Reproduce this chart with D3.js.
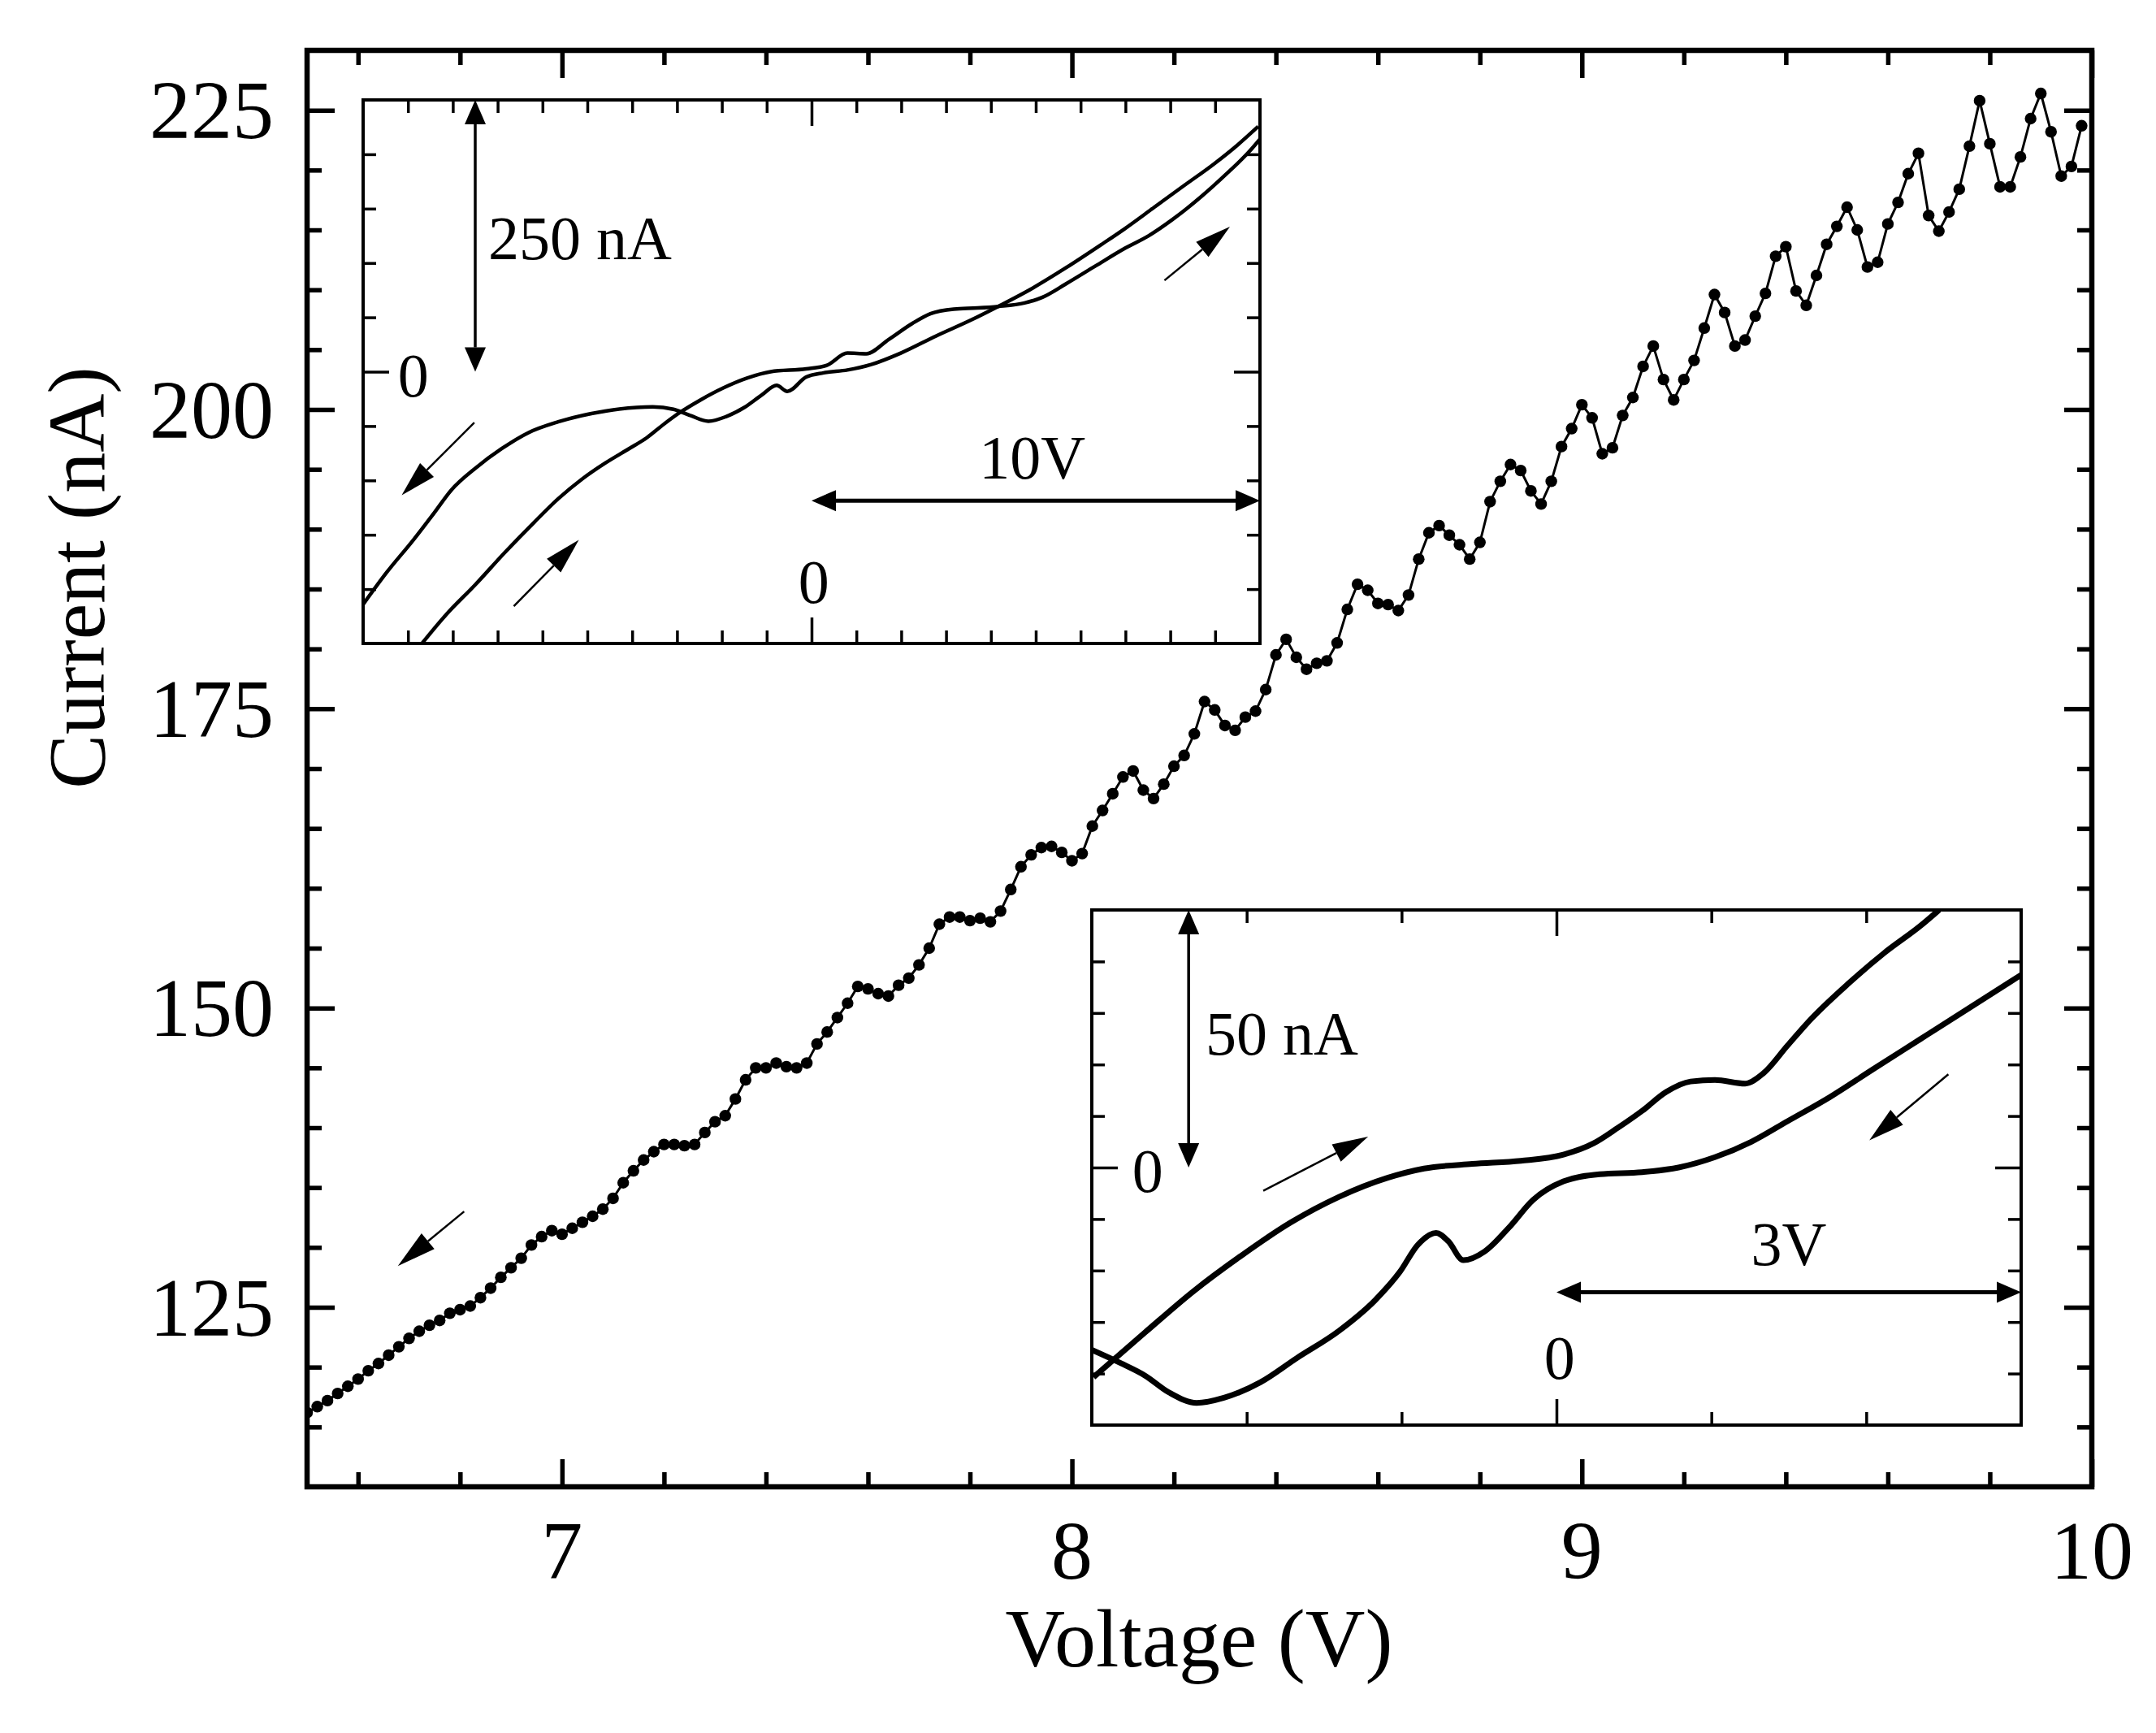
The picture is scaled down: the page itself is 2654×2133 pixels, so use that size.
<!DOCTYPE html>
<html>
<head>
<meta charset="utf-8">
<script src="https://cdn.jsdelivr.net/npm/d3@7"></script>
<style>
  body { margin: 0; background: #fff; }
  text { font-family: "Liberation Serif", "Times New Roman", serif; fill: #000; }
</style>
</head>
<body>
<script>
// main sweep, sampled every 0.02 V from 6.50 V
const mainStartV = 6.5;
const mainStepV = 0.02;
const mainCurrent = [
  116.2, 116.7, 117.2, 117.8, 118.4, 119.0, 119.7, 120.3, 121.0, 121.7,
  122.4, 123.0, 123.5, 123.9, 124.5, 124.8, 125.1, 125.8, 126.6, 127.5,
  128.3, 129.1, 130.2, 130.9, 131.4, 131.1, 131.6, 132.1, 132.6, 133.2,
  134.1, 135.4, 136.4, 137.3, 138.0, 138.6, 138.6, 138.5, 138.6, 139.6,
  140.5, 141.0, 142.4, 144.0, 145.0, 145.0, 145.4, 145.1, 145.0, 145.4,
  147.0, 148.0, 149.2, 150.4, 151.8, 151.6, 151.2, 151.0, 151.9, 152.5,
  153.6, 155.0, 157.0, 157.6, 157.6, 157.3, 157.5, 157.2, 158.1, 159.9,
  161.8, 162.8, 163.4, 163.5, 163.0, 162.3, 162.9, 165.2, 166.5, 167.9,
  169.3, 169.8, 168.2, 167.5, 168.7, 170.2, 171.1, 172.9, 175.6, 174.9,
  173.6, 173.2, 174.3, 174.8, 176.6, 179.5, 180.8, 179.3, 178.3, 178.8,
  179.0, 180.5, 183.3, 185.4, 184.9, 183.8, 183.7, 183.2, 184.5, 187.5,
  189.7, 190.3, 189.5, 188.7, 187.5, 188.9, 192.3, 194.0, 195.4, 194.9,
  193.2, 192.1, 194.0, 196.9, 198.4, 200.4, 199.3, 196.3, 196.8, 199.5,
  201.0, 203.6, 205.3, 202.5, 200.8, 202.5, 204.1, 206.8, 209.6, 208.1,
  205.3, 205.8, 207.8, 209.7, 212.8, 213.6, 209.9, 208.7, 211.2, 213.8,
  215.3, 216.9, 215.0, 211.9, 212.3, 215.5, 217.3, 219.7, 221.4, 216.2,
  214.9, 216.5, 218.4, 222.0, 225.8, 222.2, 218.6, 218.6, 221.1, 224.3,
  226.4, 223.2, 219.5, 220.3, 223.7
];
const mainXMajor = [7, 8, 9, 10];
const mainXMinor = [6.6, 6.8, 7.2, 7.4, 7.6, 7.8, 8.2, 8.4, 8.6, 8.8, 9.2, 9.4, 9.6, 9.8];
const mainYMajor = [125, 150, 175, 200, 225];
const mainYMinor = [115, 120, 130, 135, 140, 145, 155, 160, 165, 170, 180, 185, 190, 195, 205, 210, 215, 220];

// upper inset: full +-10 V loop
const in1DownV = [-10.0, -9.47, -8.88, -8.42, -8.03, -7.50, -6.91, -6.31, -5.65, -4.60, -3.54, -3.08, -2.69, -2.30, -1.90, -1.50, -1.11, -0.78, -0.54, -0.12, 0.27, 0.80, 1.33, 1.99, 2.78, 3.57, 4.16, 4.88, 5.67, 6.46, 6.99, 7.65, 8.31, 8.97, 9.49, 9.96];
const in1DownI = [-214.1, -184.4, -154.8, -130.1, -108.7, -88.9, -70.8, -56.0, -46.1, -36.2, -32.3, -34.6, -40.5, -45.5, -41.2, -32.9, -21.4, -12.6, -18.1, -4.9, -1.0, 1.6, 6.6, 17.1, 32.9, 47.8, 60.0, 75.7, 95.5, 116.9, 131.7, 151.5, 171.3, 191.0, 208.2, 225.6];
const in1UpV = [-8.68, -8.16, -7.50, -6.84, -6.18, -5.65, -5.12, -4.60, -4.07, -3.68, -3.28, -2.95, -2.49, -1.96, -1.44, -0.91, -0.12, 0.34, 0.80, 1.22, 1.72, 2.25, 2.65, 3.17, 3.70, 4.16, 4.75, 5.15, 5.67, 6.33, 6.99, 7.52, 8.05, 8.70, 9.23, 9.76, 10.0];
const in1UpI = [-249.6, -224.0, -196.0, -166.3, -138.3, -116.9, -98.8, -84.0, -70.8, -60.9, -47.8, -37.9, -26.3, -14.8, -5.9, 0.0, 2.6, 5.9, 17.1, 16.5, 29.6, 44.5, 53.4, 57.6, 58.6, 60.0, 63.2, 68.5, 80.7, 97.2, 113.6, 125.1, 140.0, 161.4, 181.1, 202.5, 214.0];
const in1XMinor = [-9, -8, -7, -6, -5, -4, -3, -2, -1, 1, 2, 3, 4, 5, 6, 7, 8, 9];
const in1YMinor = [-200, -150, -100, -50, 50, 100, 150, 200];

// lower inset: +-3 V loop
const in2UpV = [-2.989, -2.656, -2.343, -2.03, -1.717, -1.404, -1.09, -0.855, -0.543, -0.23, 0.045, 0.24, 0.396, 0.553, 0.71, 0.866, 1.023, 1.218, 1.336, 1.492, 1.649, 1.884, 2.118, 2.353, 2.47];
const in2UpI = [-40.7, -32.0, -24.0, -17.0, -10.7, -5.7, -2.0, -0.2, 0.7, 1.3, 2.5, 4.7, 7.7, 11.0, 14.7, 16.7, 17.0, 16.3, 18.3, 23.7, 29.0, 35.7, 41.7, 47.0, 50.0];
const in2DownV = [-3.0, -2.812, -2.656, -2.5, -2.323, -2.147, -1.912, -1.677, -1.404, -1.169, -1.012, -0.895, -0.777, -0.699, -0.601, -0.464, -0.308, -0.151, 0.045, 0.279, 0.553, 0.788, 1.023, 1.258, 1.492, 1.766, 2.04, 2.353, 2.666, 3.0];
const in2DownI = [-35.4, -38.0, -40.4, -43.7, -45.7, -44.7, -41.7, -37.0, -31.7, -25.7, -20.3, -15.0, -12.7, -14.3, -18.0, -16.3, -11.7, -6.3, -2.7, -1.3, -0.9, 0.0, 2.0, 5.0, 9.0, 13.7, 19.0, 25.0, 31.0, 37.4];
const in2XMinor = [-2, -1, 1, 2];
const in2YMinor = [-40, -30, -20, -10, 10, 20, 30, 40];

const W = 2654, H = 2133;
const svg = d3.select("body").append("svg")
    .attr("width", W)
    .attr("height", H)
    .style("display", "block");
svg.append("rect").attr("width", W).attr("height", H).attr("fill", "#fff");

// inward ticks on all four sides of a box
function boxTicks(g, x, y, xVals, yVals, len, sw) {
    const [x0, x1] = x.range();
    const [y0, y1] = y.range();
    const add = (axis, tr) => {
        g.append("g").attr("transform", tr)
            .call(axis.tickSizeInner(-len).tickSizeOuter(0).tickFormat(""))
            .call(a => a.select(".domain").remove())
            .selectAll("line").attr("stroke", "#000").attr("stroke-width", sw);
    };
    add(d3.axisBottom(x).tickValues(xVals), `translate(0,${y0})`);
    add(d3.axisTop(x).tickValues(xVals), `translate(0,${y1})`);
    add(d3.axisLeft(y).tickValues(yVals), `translate(${x0},0)`);
    add(d3.axisRight(y).tickValues(yVals), `translate(${x1},0)`);
}

function arrowHead(g, xt, yt, xf, yf, len, wid) {
    const dx = xt - xf, dy = yt - yf;
    const d = Math.hypot(dx, dy);
    const ux = dx / d, uy = dy / d;
    const bx = xt - ux * len, by = yt - uy * len;
    g.append("path")
        .attr("d", `M${xt},${yt}L${bx - uy * wid / 2},${by + ux * wid / 2}L${bx + uy * wid / 2},${by - ux * wid / 2}Z`)
        .attr("fill", "#000");
    return [bx, by];
}

// single arrow from (xf,yf) to tip (xt,yt)
function arrow(g, xf, yf, xt, yt, len, wid, sw) {
    const [bx, by] = arrowHead(g, xt, yt, xf, yf, len, wid);
    g.append("line").attr("x1", xf).attr("y1", yf).attr("x2", bx).attr("y2", by)
        .attr("stroke", "#000").attr("stroke-width", sw);
}

function doubleArrow(g, xa, ya, xb, yb, len, wid, sw) {
    const [b1x, b1y] = arrowHead(g, xa, ya, xb, yb, len, wid);
    const [b2x, b2y] = arrowHead(g, xb, yb, xa, ya, len, wid);
    g.append("line").attr("x1", b1x).attr("y1", b1y).attr("x2", b2x).attr("y2", b2y)
        .attr("stroke", "#000").attr("stroke-width", sw);
}

// ---------- main plot ----------
const x = d3.scaleLinear().domain([6.5, 10]).range([378, 2575]);
const y = d3.scaleLinear().domain([110, 230]).range([1830, 62]);
const main = svg.append("g");

const mainData = mainCurrent.map((c, i) => ({ v: mainStartV + i * mainStepV, c: c }));

svg.append("clipPath").attr("id", "clipMain")
    .append("rect").attr("x", 378).attr("y", 62).attr("width", 2575 - 378).attr("height", 1830 - 62);

const plot = main.append("g").attr("clip-path", "url(#clipMain)");
plot.append("path")
    .datum(mainData)
    .attr("fill", "none")
    .attr("stroke", "#000")
    .attr("stroke-width", 3)
    .attr("d", d3.line().x(d => x(d.v)).y(d => y(d.c)));
plot.selectAll("circle")
    .data(mainData)
    .enter().append("circle")
    .attr("cx", d => x(d.v))
    .attr("cy", d => y(d.c))
    .attr("r", 7.2)
    .attr("fill", "#000");

boxTicks(main, x, y, mainXMajor, mainYMajor, 34, 5.5);
boxTicks(main, x, y, mainXMinor, mainYMinor, 18, 5.5);

main.append("rect")
    .attr("x", 378).attr("y", 62)
    .attr("width", 2575 - 378).attr("height", 1830 - 62)
    .attr("fill", "none").attr("stroke", "#000").attr("stroke-width", 6.5);

main.selectAll(".xlab")
    .data(mainXMajor)
    .enter().append("text")
    .attr("x", d => x(d))
    .attr("y", 1943)
    .attr("text-anchor", "middle")
    .attr("font-size", 102)
    .text(d => d);

main.selectAll(".ylab")
    .data(mainYMajor)
    .enter().append("text")
    .attr("x", 337)
    .attr("y", d => y(d))
    .attr("dy", "0.34em")
    .attr("text-anchor", "end")
    .attr("font-size", 102)
    .text(d => d);

main.append("text")
    .attr("x", 1476).attr("y", 2051)
    .attr("text-anchor", "middle")
    .attr("font-size", 102)
    .text("Voltage (V)");

main.append("text")
    .attr("transform", "translate(128,711) rotate(-90)")
    .attr("text-anchor", "middle")
    .attr("font-size", 100)
    .text("Current (nA)");

arrow(main, x(6.808), y(133.0), x(6.678), y(128.45), 48, 25, 2.5);

// ---------- insets ----------
function drawInset(id, box, xDom, yDom, xMinor, yMinor, curves, sw) {
    const g = svg.append("g");
    const ix = d3.scaleLinear().domain(xDom).range([box.left, box.right]);
    const iy = d3.scaleLinear().domain(yDom).range([box.bottom, box.top]);
    g.append("rect")
        .attr("x", box.left).attr("y", box.top)
        .attr("width", box.right - box.left).attr("height", box.bottom - box.top)
        .attr("fill", "#fff");
    svg.append("clipPath").attr("id", id)
        .append("rect")
        .attr("x", box.left).attr("y", box.top)
        .attr("width", box.right - box.left).attr("height", box.bottom - box.top);
    const cg = g.append("g").attr("clip-path", `url(#${id})`);
    curves.forEach(c => {
        const pts = c.v.map((v, i) => [v, c.i[i]]);
        cg.append("path")
            .datum(pts)
            .attr("fill", "none")
            .attr("stroke", "#000")
            .attr("stroke-width", sw)
            .attr("stroke-linejoin", "round")
            .attr("d", d3.line().x(d => ix(d[0])).y(d => iy(d[1])).curve(d3.curveMonotoneX));
    });
    boxTicks(g, ix, iy, [0], [0], 32, 3.5);
    boxTicks(g, ix, iy, xMinor, yMinor, 16, 3.5);
    g.append("rect")
        .attr("x", box.left).attr("y", box.top)
        .attr("width", box.right - box.left).attr("height", box.bottom - box.top)
        .attr("fill", "none").attr("stroke", "#000").attr("stroke-width", 4);
    return { g, ix, iy };
}

function label(g, xp, yp, txt, anchor) {
    g.append("text").attr("x", xp).attr("y", yp)
        .attr("text-anchor", anchor).attr("font-size", 76).text(txt);
}

// upper inset
const i1 = drawInset("clipIn1", { left: 447, right: 1551, top: 123, bottom: 792 },
    [-10, 10], [-250, 250], in1XMinor, in1YMinor,
    [{ v: in1DownV, i: in1DownI }, { v: in1UpV, i: in1UpI }], 4.5);
doubleArrow(i1.g, i1.ix(-7.5), i1.iy(250), i1.ix(-7.5), i1.iy(0), 30, 26, 3.5);
doubleArrow(i1.g, i1.ix(0), i1.iy(-118.6), i1.ix(10), i1.iy(-118.6), 30, 26, 5);
label(i1.g, i1.ix(-7.21), i1.iy(103.7), "250 nA", "start");
label(i1.g, i1.ix(-8.88), i1.iy(-23), "0", "middle");
label(i1.g, i1.ix(0.05), i1.iy(-212.4), "0", "middle");
label(i1.g, i1.ix(4.92), i1.iy(-98.6), "10V", "middle");
arrow(i1.g, i1.ix(-7.52), i1.iy(-46.8), i1.ix(-9.14), i1.iy(-113.6), 44, 24, 2.5);
arrow(i1.g, i1.ix(-6.64), i1.iy(-215.8), i1.ix(-5.19), i1.iy(-154.8), 44, 24, 2.5);
arrow(i1.g, i1.ix(7.87), i1.iy(84), i1.ix(9.33), i1.iy(133.4), 44, 24, 2.5);

// lower inset
const i2 = drawInset("clipIn2", { left: 1344, right: 2488, top: 1120, bottom: 1754 },
    [-3, 3], [-50, 50], in2XMinor, in2YMinor,
    [{ v: in2UpV, i: in2UpI }, { v: in2DownV, i: in2DownI }], 7);
doubleArrow(i2.g, i2.ix(-2.375), i2.iy(50), i2.ix(-2.375), i2.iy(0), 30, 26, 3.5);
doubleArrow(i2.g, i2.ix(0), i2.iy(-24.2), i2.ix(3), i2.iy(-24.2), 30, 26, 5);
label(i2.g, i2.ix(-2.266), i2.iy(22.0), "50 nA", "start");
label(i2.g, i2.ix(-2.64), i2.iy(-4.7), "0", "middle");
label(i2.g, i2.ix(0.02), i2.iy(-41), "0", "middle");
label(i2.g, i2.ix(1.5), i2.iy(-19), "3V", "middle");
arrow(i2.g, i2.ix(-1.893), i2.iy(-4.5), i2.ix(-1.216), i2.iy(6.0), 44, 24, 2.5);
arrow(i2.g, i2.ix(2.53), i2.iy(18.1), i2.ix(2.02), i2.iy(5.3), 44, 24, 2.5);
</script>
</body>
</html>
